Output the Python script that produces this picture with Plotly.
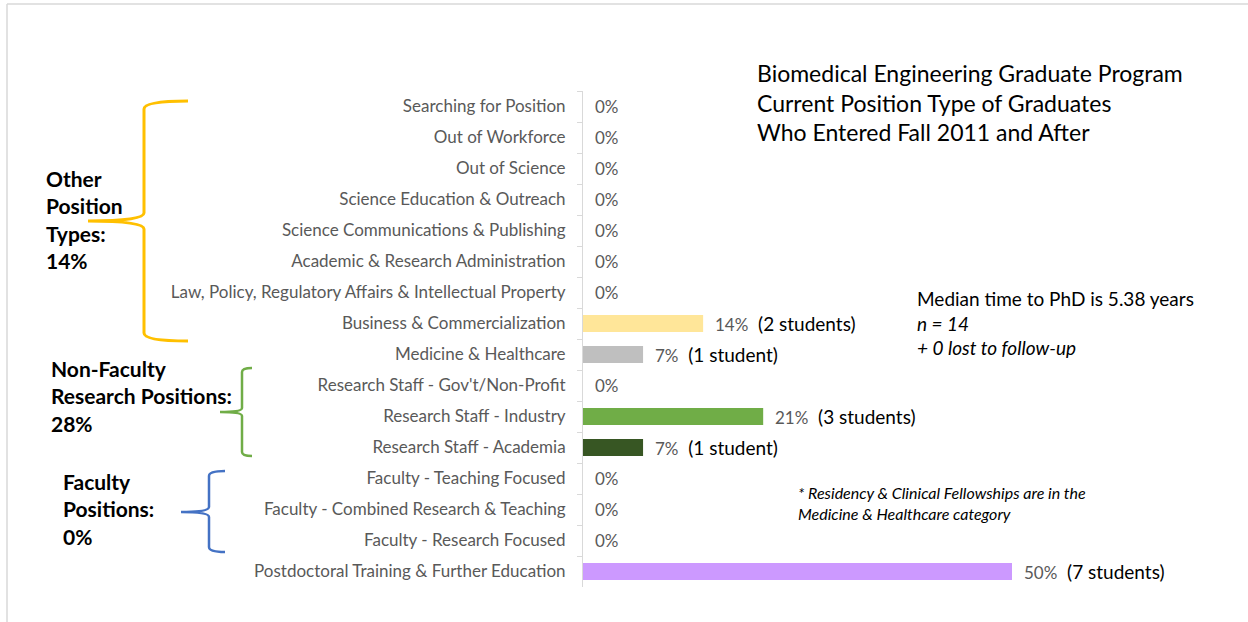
import plotly.graph_objects as go

# Position categories, listed top to bottom
categories = [
    "Searching for Position",
    "Out of Workforce",
    "Out of Science",
    "Science Education & Outreach",
    "Science Communications & Publishing",
    "Academic & Research Administration",
    "Law, Policy, Regulatory Affairs & Intellectual Property",
    "Business & Commercialization",
    "Medicine & Healthcare",
    "Research Staff - Gov't/Non-Profit",
    "Research Staff - Industry",
    "Research Staff - Academia",
    "Faculty - Teaching Focused",
    "Faculty - Combined Research & Teaching",
    "Faculty - Research Focused",
    "Postdoctoral Training & Further Education",
]
percent = [0, 0, 0, 0, 0, 0, 0, 14, 7, 0, 21, 7, 0, 0, 0, 50]
students = [0, 0, 0, 0, 0, 0, 0, 2, 1, 0, 3, 1, 0, 0, 0, 7]
bar_colors = ["#FFE699"] * 8 + ["#BFBFBF", "#A9D18E", "#70AD47", "#375623",
                                 "#8FAADC", "#8FAADC", "#8FAADC", "#CC99FF"]

W, H = 1248, 622
L, R, T, B = 583, 64, 91, 35
PW, PH = W - L - R, H - T - B
FONT = "Lato"


def px(x):
    return (x - L) / PW


def py(y):
    return 1 - (y - T) / PH


fig = go.Figure(go.Bar(
    x=percent, y=categories, orientation="h",
    marker=dict(color=bar_colors, line=dict(width=0)),
    hoverinfo="skip",
))

annotations = []
for cat, p, n in zip(categories, percent, students):
    txt = f"<span style='color:#595959;font-size:17px'>{p}%</span>"
    if n:
        txt += f"  ({n} student{'s' if n != 1 else ''})"
    annotations.append(dict(x=p, y=cat, xref="x", yref="y", text=txt,
                            showarrow=False, xanchor="left", xshift=10,
                            font=dict(family=FONT, size=19, color="#000000")))

# Title block
title_lines = ["Biomedical Engineering Graduate Program",
               "Current Position Type of Graduates",
               "Who Entered Fall 2011 and After"]
for line, ty in zip(title_lines, [73, 103, 132]):
    annotations.append(dict(
        x=px(755), y=py(ty), xref="paper", yref="paper", xanchor="left",
        yanchor="middle", align="left", showarrow=False, text=line,
        font=dict(family=FONT, size=23, color="#000000"),
    ))
# Summary stats
annotations.append(dict(
    x=px(915), y=py(323), xref="paper", yref="paper", xanchor="left", yanchor="middle",
    align="left", showarrow=False,
    text="Median time to PhD is 5.38 years<br><i>n = 14</i><br><i>+ 0 lost to follow-up</i>",
    font=dict(family=FONT, size=19, color="#000000"),
))
# Footnote
annotations.append(dict(
    x=px(796), y=py(503), xref="paper", yref="paper", xanchor="left", yanchor="middle",
    align="left", showarrow=False,
    text="<i>* Residency & Clinical Fellowships are in the<br>Medicine & Healthcare category</i>",
    font=dict(family=FONT, size=16, color="#000000"),
))

# Group labels
groups = [
    ("Other<br>Position<br>Types:<br>14%", 44, 219),
    ("Non-Faculty<br>Research Positions:<br>28%", 49, 396),
    ("Faculty<br>Positions:<br>0%", 61, 509),
]
for text, gx, gy in groups:
    annotations.append(dict(
        x=px(gx), y=py(gy), xref="paper", yref="paper", xanchor="left", yanchor="middle",
        align="left", showarrow=False, text=f"<b>{text}</b>",
        font=dict(family=FONT, size=21, color="#000000"),
    ))


def brace(x_end, x_spine, x_nose, y_top, y_mid, y_bot, r):
    """Curly bracket opening to the right, in pixel space."""
    pts = [
        f"M {px(x_end)},{py(y_top)}",
        f"Q {px(x_spine)},{py(y_top)} {px(x_spine)},{py(y_top + r)}",
        f"L {px(x_spine)},{py(y_mid - r)}",
        f"Q {px(x_spine)},{py(y_mid)} {px(x_nose)},{py(y_mid)}",
        f"Q {px(x_spine)},{py(y_mid)} {px(x_spine)},{py(y_mid + r)}",
        f"L {px(x_spine)},{py(y_bot - r)}",
        f"Q {px(x_spine)},{py(y_bot)} {px(x_end)},{py(y_bot)}",
    ]
    return " ".join(pts)


shapes = [
    dict(type="path", xref="paper", yref="paper",
         path=brace(188, 144, 88, 101, 221, 341, 8),
         line=dict(color="#FFC000", width=3)),
    dict(type="path", xref="paper", yref="paper",
         path=brace(252, 242, 220, 368, 412, 456, 4),
         line=dict(color="#70AD47", width=2.5)),
    dict(type="path", xref="paper", yref="paper",
         path=brace(225, 209, 181, 471, 512, 552, 5),
         line=dict(color="#4472C4", width=2.5)),
    # thin frame along top and left edges
    dict(type="line", xref="paper", yref="paper", x0=px(7), x1=px(1248),
         y0=py(4), y1=py(4), line=dict(color="#D9D9D9", width=1.5)),
    dict(type="line", xref="paper", yref="paper", x0=px(7), x1=px(7),
         y0=py(4), y1=py(622), line=dict(color="#D9D9D9", width=1.5)),
]

fig.update_layout(
    width=W, height=H,
    margin=dict(l=L, r=R, t=T, b=B),
    paper_bgcolor="white", plot_bgcolor="white",
    showlegend=False, bargap=0.45,
    annotations=annotations, shapes=shapes,
    xaxis=dict(range=[0, PW / (429 / 50)], visible=False, fixedrange=True),
    yaxis=dict(
        categoryorder="array", categoryarray=categories,
        range=[len(categories) - 0.5, -0.5],
        showline=True, linecolor="#D9D9D9", linewidth=1,
        ticks="outside", tickson="boundaries", ticklen=5, tickcolor="#D9D9D9",
        ticklabelstandoff=13,
        tickfont=dict(family=FONT, size=17, color="#595959"),
        showgrid=False, zeroline=False, fixedrange=True,
    ),
)

fig.write_html("out.html")
